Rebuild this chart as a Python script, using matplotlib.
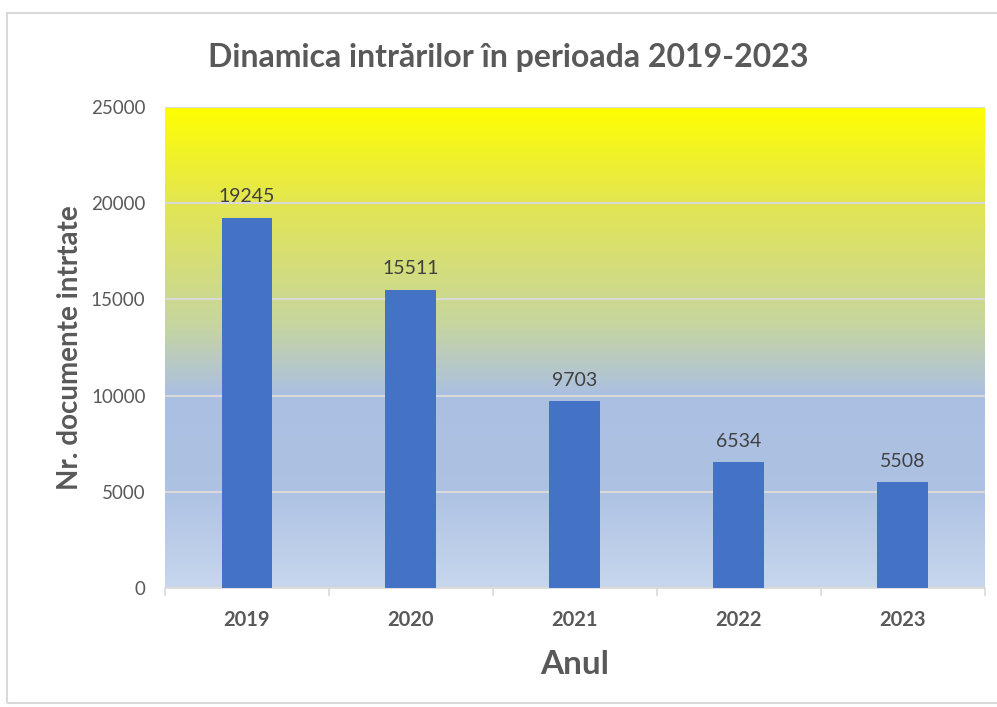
import numpy as np
import matplotlib.pyplot as plt
from matplotlib.colors import LinearSegmentedColormap
from matplotlib.patches import Rectangle

years = ['2019', '2020', '2021', '2022', '2023']
documents = [19245, 15511, 9703, 6534, 5508]
y_ticks = [0, 5000, 10000, 15000, 20000, 25000]

plt.rcParams['font.family'] = ['Lato', 'DejaVu Sans']

fig = plt.figure(figsize=(9.97, 7.07), dpi=100)
fig.patches.append(Rectangle((0.007, 0.005), 1.0, 0.977, transform=fig.transFigure,
                             fill=False, edgecolor='#d9d9d9', linewidth=1.5))
ax = fig.add_axes([0.1655, 0.168, 0.822, 0.681])

# background gradient: bottom -> top
bg = LinearSegmentedColormap.from_list('bg', [
    (0.0, (0.78, 0.84, 0.93)),
    (0.2, (0.68, 0.76, 0.89)),
    (0.4, (0.67, 0.75, 0.89)),
    (0.55, (0.78, 0.84, 0.62)),
    (0.8, (0.89, 0.90, 0.32)),
    (1.0, (1.0, 1.0, 0.0)),
])
grad = np.linspace(0, 1, 256).reshape(-1, 1)
ax.imshow(grad, cmap=bg, origin='lower', aspect='auto',
          extent=[-0.5, len(years) - 0.5, 0, 25000], zorder=0)

x = np.arange(len(years))
bars = ax.bar(x, documents, width=0.31, color='#4472C4', zorder=3)
for xi, v in zip(x, documents):
    ax.text(xi, v + 650, str(v), ha='center', va='bottom', fontsize=14, color='#404040')

ax.set_xlim(-0.5, len(years) - 0.5)
ax.set_ylim(0, 25000)
ax.set_yticks(y_ticks)
ax.set_yticklabels([str(t) for t in y_ticks], fontsize=13.5, color='#595959')
ax.yaxis.grid(True, color='#d9d9d9', linewidth=1.5)
for gl in ax.get_ygridlines():
    gl.set_zorder(1)
ax.tick_params(axis='y', length=0, pad=14)

ax.set_xticks(x)
ax.set_xticklabels(years, fontsize=14.5, fontweight='bold', color='#595959')
ax.set_xticks(np.arange(-0.5, len(years)), minor=True)
ax.tick_params(axis='x', which='major', length=0, pad=16)
ax.tick_params(axis='x', which='minor', length=6, color='#d9d9d9', width=1.2)

for s in ['top', 'right', 'left']:
    ax.spines[s].set_visible(False)
ax.spines['bottom'].set_color('#d9d9d9')
ax.spines['bottom'].set_linewidth(1.2)

ax.set_xlabel('Anul', fontsize=24, fontweight='bold', color='#595959', labelpad=14)
ax.set_ylabel('Nr. documente intrtate', fontsize=20, fontweight='bold', color='#595959', labelpad=6)
fig.text(0.51, 0.918, 'Dinamica intrărilor în perioada 2019-2023', ha='center', va='center',
         fontsize=23, fontweight='bold', color='#595959')

plt.savefig('out.png')
